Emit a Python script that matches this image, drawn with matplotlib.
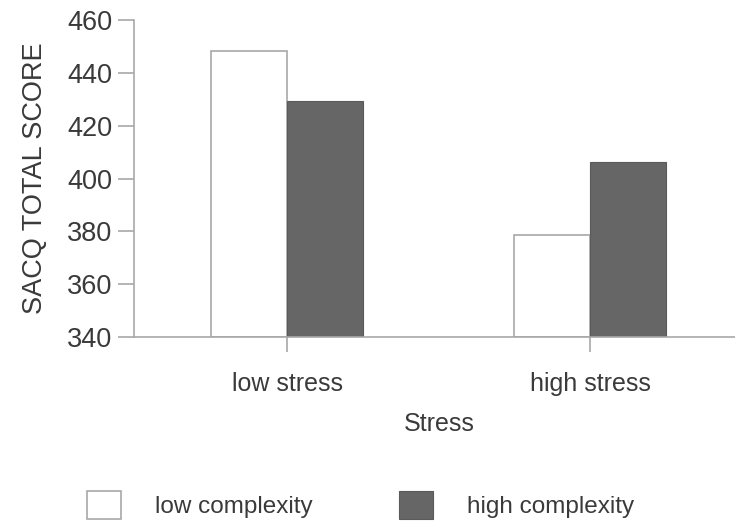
import matplotlib.pyplot as plt
import numpy as np
from matplotlib.patches import Patch

plt.rcParams['font.family'] = ['Liberation Sans', 'DejaVu Sans']

stress_levels = ['low stress', 'high stress']
low_complexity = [448.3, 378.5]
high_complexity = [429.3, 406.3]
series_names = ['low complexity', 'high complexity']

axis_grey = '#a8a8a8'
text_grey = '#3a3a3a'
dark_fill = '#666666'

fig = plt.figure(figsize=(7.35, 5.25), dpi=100)
ax = fig.add_axes([0.1823, 0.358, 0.83, 0.604])

x = np.arange(len(stress_levels))
w = 0.25
ax.bar(x - w / 2, np.array(low_complexity) - 340, w, bottom=340,
       color='white', edgecolor=axis_grey, linewidth=1.2)
ax.bar(x + w / 2, np.array(high_complexity) - 340, w, bottom=340,
       color=dark_fill, edgecolor='#5a5a5a', linewidth=0.8)

ax.set_ylim(340, 460)
ax.set_yticks(range(340, 461, 20))
ax.set_xlim(-0.505, 1.508)
ax.set_xticks(x)
ax.set_xticklabels(stress_levels)

for s in ['top', 'right']:
    ax.spines[s].set_visible(False)
for s in ['left', 'bottom']:
    ax.spines[s].set_color(axis_grey)
    ax.spines[s].set_linewidth(1.2)

ax.tick_params(axis='y', length=11.5, width=1.2, color=axis_grey,
               labelsize=19.5, labelcolor=text_grey, pad=4)
ax.tick_params(axis='x', length=11, width=1.2, color=axis_grey,
               labelsize=18, labelcolor=text_grey, pad=14)

ax.set_ylabel('SACQ TOTAL SCORE', fontsize=19.5, color=text_grey, labelpad=14)
ax.set_xlabel('Stress', fontsize=18, color=text_grey, labelpad=12)

handles = [Patch(facecolor='white', edgecolor=axis_grey, linewidth=1.2),
           Patch(facecolor=dark_fill, edgecolor='#5a5a5a', linewidth=0.8)]
fig.legend(handles, series_names, loc='center', bbox_to_anchor=(0.4905, 0.038),
           ncol=2, frameon=False, fontsize=17.5, labelcolor=text_grey,
           handlelength=1.4, handleheight=1.35, handletextpad=1.4,
           columnspacing=3.55)

fig.savefig('out.png', dpi=100)
